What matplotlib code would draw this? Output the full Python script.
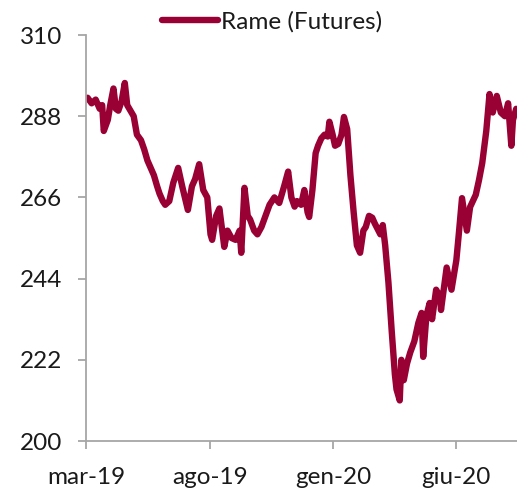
import numpy as np
import pandas as pd
import matplotlib
matplotlib.use("Agg")
import matplotlib.pyplot as plt
import matplotlib.dates as mdates

plt.rcParams["font.family"] = ["Lato", "DejaVu Sans"]

# ── data ──────────────────────────────────────────────────────────────────────
DATES = [
    "2019-03-03", "2019-03-08", "2019-03-13", "2019-03-18", "2019-03-21", "2019-03-23",
    "2019-03-28", "2019-03-31", "2019-04-04", "2019-04-07", "2019-04-10", "2019-04-14",
    "2019-04-18", "2019-04-21", "2019-04-25", "2019-04-29", "2019-05-03", "2019-05-08",
    "2019-05-12", "2019-05-16", "2019-05-20", "2019-05-24", "2019-05-28", "2019-05-31",
    "2019-06-04", "2019-06-07", "2019-06-12", "2019-06-17", "2019-06-23", "2019-06-28",
    "2019-07-05", "2019-07-10", "2019-07-14", "2019-07-19", "2019-07-24", "2019-07-29",
    "2019-08-02", "2019-08-04", "2019-08-09", "2019-08-13", "2019-08-17", "2019-08-19",
    "2019-08-23", "2019-08-28", "2019-09-02", "2019-09-07", "2019-09-09", "2019-09-13",
    "2019-09-17", "2019-09-20", "2019-09-25", "2019-09-29", "2019-10-04", "2019-10-09",
    "2019-10-14", "2019-10-20", "2019-10-26", "2019-11-01", "2019-11-06", "2019-11-10",
    "2019-11-14", "2019-11-17", "2019-11-22", "2019-11-26", "2019-11-30", "2019-12-02",
    "2019-12-06", "2019-12-10", "2019-12-13", "2019-12-17", "2019-12-21", "2019-12-25",
    "2019-12-27", "2019-12-31", "2020-01-03", "2020-01-07", "2020-01-11", "2020-01-14",
    "2020-01-18", "2020-01-22", "2020-01-26", "2020-01-30", "2020-02-03", "2020-02-07",
    "2020-02-10", "2020-02-14", "2020-02-18", "2020-02-21", "2020-02-28", "2020-03-02",
    "2020-03-05", "2020-03-09", "2020-03-13", "2020-03-17", "2020-03-19", "2020-03-23",
    "2020-03-25", "2020-03-28", "2020-04-01", "2020-04-05", "2020-04-10", "2020-04-15",
    "2020-04-19", "2020-04-21", "2020-04-25", "2020-04-29", "2020-05-02", "2020-05-07",
    "2020-05-12", "2020-05-13", "2020-05-20", "2020-05-26", "2020-06-01", "2020-06-04",
    "2020-06-08", "2020-06-14", "2020-06-18", "2020-06-25", "2020-06-29", "2020-07-03",
    "2020-07-08", "2020-07-12", "2020-07-16", "2020-07-21", "2020-07-26", "2020-07-31",
    "2020-08-04", "2020-08-08", "2020-08-10", "2020-08-14",
]
RAME = [
    293.0, 291.5, 292.5, 290.0, 291.0, 284.0,
    287.0, 291.0, 295.5, 290.0, 289.5, 292.0,
    297.0, 291.0, 289.5, 288.0, 283.0, 281.5,
    279.0, 276.0, 274.0, 272.0, 269.0, 267.0,
    265.0, 264.0, 265.0, 270.0, 274.0, 269.0,
    262.6, 269.0, 271.0, 275.0, 268.0, 266.0,
    256.0, 254.5, 261.0, 263.0, 256.0, 252.6,
    257.0, 255.0, 254.5, 257.0, 251.0, 268.6,
    261.0, 260.0, 257.0, 256.0, 258.0, 261.0,
    264.0, 266.0, 264.5, 269.0, 273.0, 266.0,
    263.5, 265.0, 264.0, 268.0, 262.0, 260.7,
    268.0, 278.0, 280.0, 282.0, 283.0, 282.5,
    286.5, 283.0, 280.0, 280.5, 283.0, 287.8,
    284.5, 272.0, 262.0, 253.0, 251.0, 257.0,
    258.0, 261.0, 260.5, 259.0, 256.0, 258.5,
    253.0, 243.0, 230.0, 218.0, 214.0, 211.0,
    222.0, 216.5, 221.0, 224.0, 227.0, 232.0,
    234.7, 222.8, 234.0, 237.4, 233.0, 241.0,
    239.0, 235.5, 247.0, 241.0, 249.0, 256.0,
    265.8, 257.0, 263.4, 266.7, 270.7, 275.3,
    284.0, 294.0, 289.0, 293.5, 289.0, 288.0,
    291.5, 280.0, 287.0, 290.0,
]
Y_TICKS = [200, 222, 244, 266, 288, 310]
X_TICKS = ["2019-03-01", "2019-08-01", "2020-01-01", "2020-06-01"]
X_LABELS = ["mar-19", "ago-19", "gen-20", "giu-20"]

COLOR = "#990033"
AXIS_GREY = "#A6A6A6"

# ── plot ──────────────────────────────────────────────────────────────────────
fig = plt.figure(figsize=(5.17, 4.91), dpi=100)
ax = fig.add_axes([0.1663, 0.1018, 0.8337, 0.8269])

ax.plot(pd.to_datetime(DATES), RAME, color=COLOR, lw=4.6,
        solid_joinstyle="round", solid_capstyle="round", label="Rame (Futures)")

ax.set_ylim(200, 310)
ax.set_yticks(Y_TICKS)
ax.set_xlim(pd.Timestamp("2019-03-01"), pd.Timestamp("2020-08-15"))
ax.set_xticks(pd.to_datetime(X_TICKS))
ax.set_xticklabels(X_LABELS)

for s in ("top", "right"):
    ax.spines[s].set_visible(False)
for s in ("left", "bottom"):
    ax.spines[s].set_color(AXIS_GREY)
    ax.spines[s].set_linewidth(1.3)
ax.tick_params(axis="both", colors=AXIS_GREY, width=1.3, length=6,
               labelcolor="#1a1a1a", labelsize=17.5)
ax.tick_params(axis="y", pad=11)
ax.tick_params(axis="x", pad=13)

fig.legend(loc="center", bbox_to_anchor=(272 / 517, 1 - 22 / 491), frameon=False,
           fontsize=17.5, handlelength=2.3, handletextpad=0.15, borderpad=0,
           labelcolor="#1a1a1a")

plt.savefig("out.png", dpi=100)
